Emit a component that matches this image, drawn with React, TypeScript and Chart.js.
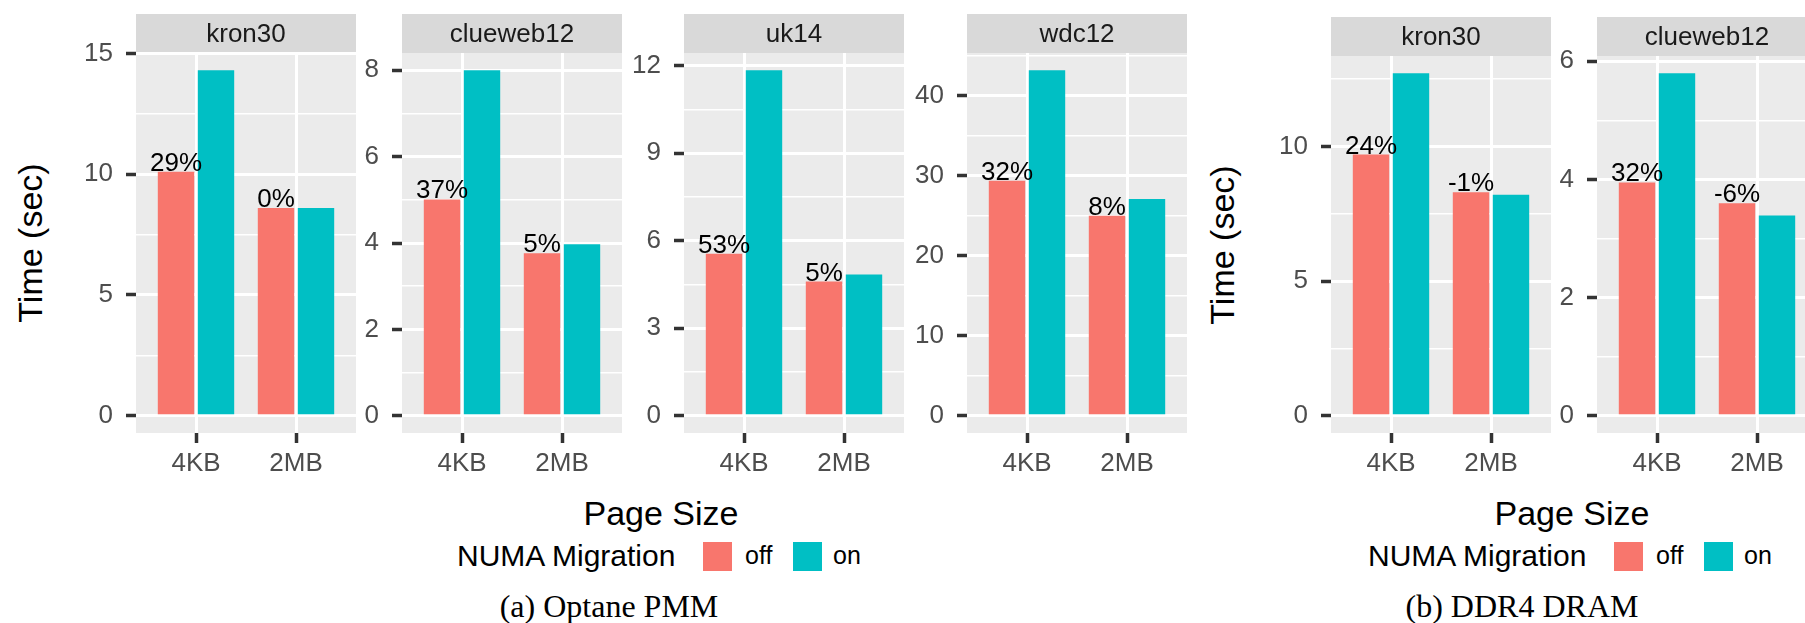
import React, { useEffect, useRef } from "react";
import { Chart, registerables } from "chart.js";

Chart.register(...registerables);

// ---- data -------------------------------------------------------------
const pageSizes = ["4KB", "2MB"];
const migrationModes = ["off", "on"];

// (a) Optane PMM — run time in seconds, indexed by page size
const optaneGraphs = ["kron30", "clueweb12", "uk14", "wdc12"];
const optaneOff = [
  [10.1, 8.6],
  [5.01, 3.76],
  [5.55, 4.6],
  [29.4, 25.0],
];
const optaneOn = [
  [14.3, 8.6],
  [8.0, 3.97],
  [11.84, 4.84],
  [43.2, 27.1],
];
const optaneTicks = [
  [0, 5, 10, 15],
  [0, 2, 4, 6, 8],
  [0, 3, 6, 9, 12],
  [0, 10, 20, 30, 40],
];

// (b) DDR4 DRAM
const dramGraphs = ["kron30", "clueweb12"];
const dramOff = [
  [9.7, 8.3],
  [3.95, 3.6],
];
const dramOn = [
  [12.72, 8.21],
  [5.8, 3.39],
];
const dramTicks = [
  [0, 5, 10],
  [0, 2, 4, 6],
];

// ---- look -------------------------------------------------------------
const RED = "#F8766D";
const TEAL = "#00BFC4";
const SANS = "'Liberation Sans', Arial, Helvetica, sans-serif";
const SERIF = "'Liberation Serif', 'Times New Roman', serif";

const PANEL_W = 220;
const AXIS_W = 80;
const CANVAS_H = 490;
const PANEL_BOTTOM = 433;
const SMALL = 26;

const optaneLefts = [136, 402, 684, 967];
const dramLefts = [1331, 1597];

const pctLabel = (off: number, on: number) => {
  const p = Math.round(((on - off) / on) * 100);
  return `${p === 0 ? 0 : p}%`;
};

// panel background, facet strip and the percentage labels
const facetPlugin = {
  id: "facet",
  beforeDraw(chart: any, _args: any, opts: any) {
    const { ctx, chartArea } = chart;
    ctx.save();
    ctx.fillStyle = "#EBEBEB";
    ctx.fillRect(chartArea.left, chartArea.top, chartArea.right - chartArea.left, chartArea.bottom - chartArea.top);
    ctx.fillStyle = "#D9D9D9";
    ctx.fillRect(chartArea.left, opts.stripTop, chartArea.right - chartArea.left, chartArea.top - opts.stripTop);
    ctx.fillStyle = "#1A1A1A";
    ctx.font = `${SMALL}px ${SANS}`;
    ctx.textAlign = "center";
    ctx.textBaseline = "middle";
    ctx.fillText(opts.title, (chartArea.left + chartArea.right) / 2, (opts.stripTop + chartArea.top) / 2 + 1);
    ctx.restore();
  },
  afterDatasetsDraw(chart: any, _args: any, opts: any) {
    const { ctx } = chart;
    const offMeta = chart.getDatasetMeta(0);
    ctx.save();
    ctx.fillStyle = "#000";
    ctx.font = `${SMALL}px ${SANS}`;
    ctx.textAlign = "center";
    ctx.textBaseline = "alphabetic";
    offMeta.data.forEach((bar: any, i: number) => {
      ctx.fillText(opts.labels[i], bar.x, bar.y - 1);
    });
    ctx.restore();
  },
};

type PanelProps = {
  left: number;
  title: string;
  off: number[];
  on: number[];
  ticks: number[];
  stripTop: number;
  panelTop: number;
};

function Panel({ left, title, off, on, ticks, stripTop, panelTop }: PanelProps) {
  const ref = useRef<HTMLCanvasElement>(null);

  useEffect(() => {
    if (!ref.current) return;
    const top = Math.max(...off, ...on);
    const yMin = -0.05 * top;
    const yMax = 1.05 * top;
    const step = ticks[1] - ticks[0];
    const minor: number[] = [];
    ticks.forEach((t) => {
      if (t + step / 2 <= yMax) minor.push(t + step / 2);
    });
    const allTicks = [...ticks, ...minor].sort((a, b) => a - b);
    const isMajor = (v: number) => ticks.some((t) => Math.abs(t - v) < 1e-9);
    const labels = off.map((v, i) => pctLabel(v, on[i]));

    const chart = new Chart(ref.current, {
      type: "bar",
      data: {
        datasets: [
          {
            label: migrationModes[0],
            data: off.map((y, i) => ({ x: i + 1, y })),
            backgroundColor: RED,
            categoryPercentage: 0.8,
            barPercentage: 0.91,
          },
          {
            label: migrationModes[1],
            data: on.map((y, i) => ({ x: i + 1, y })),
            backgroundColor: TEAL,
            categoryPercentage: 0.8,
            barPercentage: 0.91,
          },
        ],
      } as any,
      options: {
        responsive: false,
        animation: false,
        events: [],
        layout: { padding: { top: panelTop, left: 0, right: 0, bottom: 0 } },
        plugins: {
          legend: { display: false },
          tooltip: { enabled: false },
          title: { display: false },
          facet: { title, stripTop, labels },
        } as any,
        scales: {
          x: {
            type: "linear",
            min: 0.4,
            max: 2.6,
            offset: false,
            afterBuildTicks: (s: any) => {
              s.ticks = pageSizes.map((_, i) => ({ value: i + 1 }));
            },
            afterFit: (s: any) => {
              s.height = CANVAS_H - PANEL_BOTTOM;
            },
            grid: {
              offset: false,
              color: "#FFFFFF",
              lineWidth: 3,
              drawTicks: true,
              tickLength: 10,
              tickColor: "#333333",
              tickWidth: 3.5,
            },
            border: { display: false },
            ticks: {
              autoSkip: false,
              maxRotation: 0,
              padding: 5,
              color: "#4D4D4D",
              font: { family: SANS, size: SMALL },
              callback: (v: any) => pageSizes[Number(v) - 1] ?? "",
            },
          },
          y: {
            type: "linear",
            min: yMin,
            max: yMax,
            afterBuildTicks: (s: any) => {
              s.ticks = allTicks.map((v) => ({ value: v }));
            },
            afterFit: (s: any) => {
              s.width = AXIS_W;
            },
            grid: {
              color: "#FFFFFF",
              lineWidth: (c: any) => (isMajor(c.tick.value) ? 3 : 1.5),
              tickLength: 10,
              tickColor: (c: any) => (isMajor(c.tick.value) ? "#333333" : "rgba(0,0,0,0)"),
              tickWidth: 3.5,
            },
            border: { display: false },
            ticks: {
              autoSkip: false,
              padding: 13,
              color: "#4D4D4D",
              font: { family: SANS, size: SMALL },
              callback: (v: any) => (isMajor(Number(v)) ? String(v) : ""),
            },
          },
        },
      } as any,
      plugins: [facetPlugin],
    });
    return () => chart.destroy();
  }, [title, off, on, ticks, stripTop, panelTop]);

  return (
    <canvas
      ref={ref}
      width={AXIS_W + PANEL_W}
      height={CANVAS_H}
      style={{ position: "absolute", left: left - AXIS_W, top: 0, width: AXIS_W + PANEL_W, height: CANVAS_H }}
    />
  );
}

// text placed by its baseline
function Text({
  x,
  baseline,
  size,
  children,
  align = "left",
  family = SANS,
}: {
  x: number;
  baseline: number;
  size: number;
  children: React.ReactNode;
  align?: "left" | "center";
  family?: string;
}) {
  const lead = family === SERIF ? 0.8375 : 0.8465;
  return (
    <div
      style={{
        position: "absolute",
        left: x,
        top: baseline - lead * size,
        fontFamily: family,
        fontSize: size,
        lineHeight: `${size}px`,
        whiteSpace: "nowrap",
        color: "#000",
        transform: align === "center" ? "translateX(-50%)" : undefined,
      }}
    >
      {children}
    </div>
  );
}

function YTitle({ cx, cy }: { cx: number; cy: number }) {
  return (
    <div
      style={{
        position: "absolute",
        left: cx,
        top: cy,
        fontFamily: SANS,
        fontSize: 34,
        lineHeight: "34px",
        whiteSpace: "nowrap",
        transform: "translate(-50%, -50%) rotate(-90deg)",
      }}
    >
      Time (sec)
    </div>
  );
}

function Legend({ center }: { center: number }) {
  const left = center - 203;
  const key = (x: number, color: string) => (
    <div style={{ position: "absolute", left: left + x, top: 542, width: 29, height: 29, background: color }} />
  );
  return (
    <>
      <Text x={left} baseline={566} size={30}>
        NUMA Migration
      </Text>
      {key(246, RED)}
      <Text x={left + 288} baseline={564} size={25}>
        {migrationModes[0]}
      </Text>
      {key(336, TEAL)}
      <Text x={left + 376} baseline={564} size={25}>
        {migrationModes[1]}
      </Text>
    </>
  );
}

export default function App() {
  return (
    <div
      style={{
        position: "absolute",
        left: 0,
        top: 0,
        width: 1805,
        height: 623,
        overflow: "hidden",
        background: "#FFFFFF",
      }}
    >
      {optaneGraphs.map((g, i) => (
        <Panel
          key={`a-${g}`}
          left={optaneLefts[i]}
          title={g}
          off={optaneOff[i]}
          on={optaneOn[i]}
          ticks={optaneTicks[i]}
          stripTop={14}
          panelTop={53}
        />
      ))}
      {dramGraphs.map((g, i) => (
        <Panel
          key={`b-${g}`}
          left={dramLefts[i]}
          title={g}
          off={dramOff[i]}
          on={dramOn[i]}
          ticks={dramTicks[i]}
          stripTop={17}
          panelTop={56}
        />
      ))}

      <YTitle cx={30} cy={243} />
      <YTitle cx={1222} cy={245} />

      <Text x={661} baseline={525} size={34} align="center">
        Page Size
      </Text>
      <Text x={1572} baseline={525} size={34} align="center">
        Page Size
      </Text>

      <Legend center={660} />
      <Legend center={1571} />

      <Text x={609} baseline={617} size={32} align="center" family={SERIF}>
        (a) Optane PMM
      </Text>
      <Text x={1522} baseline={617} size={32} align="center" family={SERIF}>
        (b) DDR4 DRAM
      </Text>
    </div>
  );
}
